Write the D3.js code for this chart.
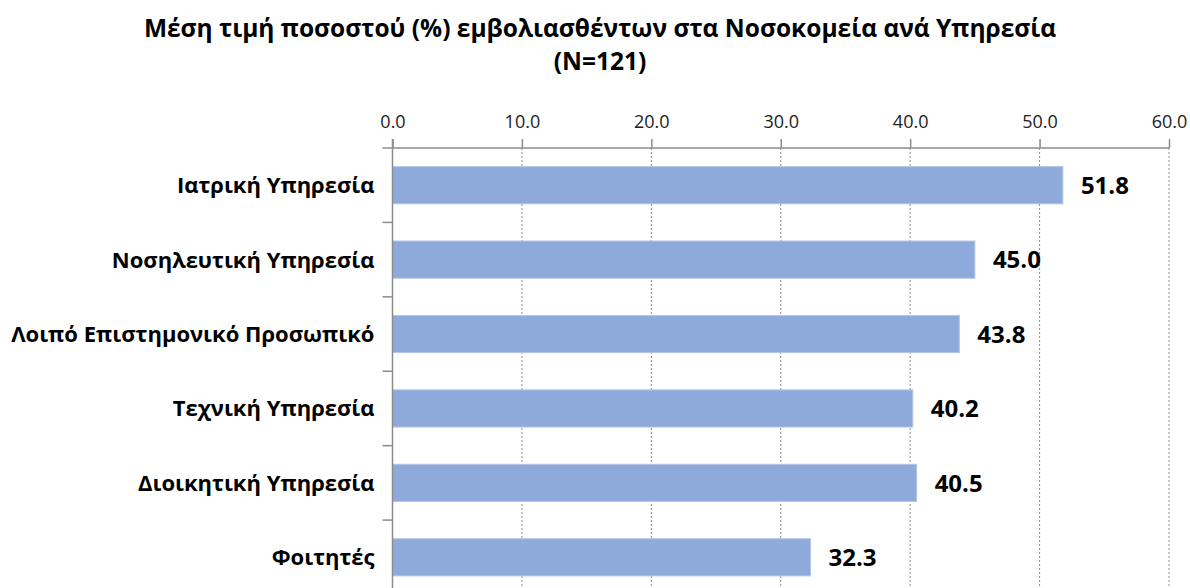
<!DOCTYPE html>
<html>
<head>
<meta charset="utf-8">
<script src="https://cdn.jsdelivr.net/npm/d3@7"></script>
<style>
    body { margin: 0; background: #fff; }
    text { font-family: "Open Sans", "Noto Sans", sans-serif; fill: #000; }
    .title { font-weight: bold; font-size: 24.5px; }
    .cat { font-weight: bold; font-size: 22px; }
    .tick text { font-size: 18px; fill: #222; }
    .value { font-weight: bold; font-size: 24px; }
</style>
</head>
<body>
<svg></svg>
<script>
var categories = [
    "Ιατρική Υπηρεσία",
    "Νοσηλευτική Υπηρεσία",
    "Λοιπό Επιστημονικό Προσωπικό",
    "Τεχνική Υπηρεσία",
    "Διοικητική Υπηρεσία",
    "Φοιτητές"
]
var values = [51.8, 45.0, 43.8, 40.2, 40.5, 32.3]
var tickValues = [0, 10, 20, 30, 40, 50, 60]
var titleLines = ["Μέση τιμή ποσοστού (%) εμβολιασθέντων στα Νοσοκομεία ανά Υπηρεσία", "(N=121)"]

var makeTranslateString = function (x, y) {
    return "translate(" + x + "," + y + ")";
}

var initGraph = function () {
    var screen = { width: 1190, height: 588 }
    var margins = { left: 392.5, right: 21, top: 148, bottom: -6.5 }
    var graph = {
        width: screen.width - margins.left - margins.right,
        height: screen.height - margins.top - margins.bottom
    }

    var svg = d3.select("svg")
        .attr("width", screen.width)
        .attr("height", screen.height)

    var xScale = d3.scaleLinear()
        .domain([0, 60])
        .range([0, graph.width])

    var yScale = d3.scaleBand()
        .domain(categories)
        .range([0, graph.height])
        .paddingInner(0.5)
        .paddingOuter(0.25)

    var target = svg.append("g")
        .attr("transform", makeTranslateString(margins.left, margins.top))

    // dotted gridlines
    target.append("g")
        .selectAll("line")
        .data(tickValues.slice(1))
        .enter()
        .append("line")
        .attr("x1", function (d) { return xScale(d) })
        .attr("x2", function (d) { return xScale(d) })
        .attr("y1", 0)
        .attr("y2", graph.height)
        .attr("stroke", "#8c8c8c")
        .attr("stroke-width", 1)
        .attr("stroke-dasharray", "2,2")

    // bars
    target.append("g")
        .selectAll("rect")
        .data(values)
        .enter()
        .append("rect")
        .attr("x", 0)
        .attr("y", function (d, i) { return yScale(categories[i]) })
        .attr("width", function (d) { return xScale(d) })
        .attr("height", yScale.bandwidth())
        .attr("fill", "#8eaadb")
        .attr("stroke", "#b4c7e7")
        .attr("stroke-width", 1)

    // value labels
    target.append("g")
        .selectAll("text")
        .data(values)
        .enter()
        .append("text")
        .classed("value", true)
        .attr("x", function (d) { return xScale(d) + 18 })
        .attr("y", function (d, i) { return yScale(categories[i]) + yScale.bandwidth() / 2 })
        .attr("dy", "0.36em")
        .text(function (d) { return d.toFixed(1) })

    // top axis
    var xAxis = d3.axisTop(xScale)
        .tickValues(tickValues)
        .tickFormat(d3.format(".1f"))
        .tickSize(9)
        .tickSizeOuter(0)
        .tickPadding(11)
    var gx = target.append("g").call(xAxis)
    gx.select(".domain").attr("stroke", "#8c8c8c").attr("stroke-width", 1.5)
        .attr("d", "M-10,0H" + graph.width)
    gx.selectAll(".tick line").attr("stroke", "#8c8c8c").attr("stroke-width", 1.5)

    // left axis with category ticks between bands
    var step = yScale.step()
    var gy = target.append("g")
    gy.append("line")
        .attr("x1", 0).attr("x2", 0)
        .attr("y1", -9).attr("y2", graph.height)
        .attr("stroke", "#8c8c8c").attr("stroke-width", 1.5)
    gy.selectAll("line.ctick")
        .data(categories)
        .enter()
        .append("line")
        .classed("ctick", true)
        .attr("x1", -10).attr("x2", 0)
        .attr("y1", function (d, i) { return (i + 1) * step })
        .attr("y2", function (d, i) { return (i + 1) * step })
        .attr("stroke", "#8c8c8c").attr("stroke-width", 1.5)
    gy.selectAll("text")
        .data(categories)
        .enter()
        .append("text")
        .classed("cat", true)
        .attr("text-anchor", "end")
        .attr("x", -18)
        .attr("y", function (d) { return yScale(d) + yScale.bandwidth() / 2 })
        .attr("dy", "0.36em")
        .text(function (d) { return d })

    // title
    svg.append("g")
        .selectAll("text")
        .data(titleLines)
        .enter()
        .append("text")
        .classed("title", true)
        .attr("text-anchor", "middle")
        .attr("x", 600)
        .attr("y", function (d, i) { return 37 + i * 33 })
        .text(function (d) { return d })
}

initGraph()
</script>
</body>
</html>
